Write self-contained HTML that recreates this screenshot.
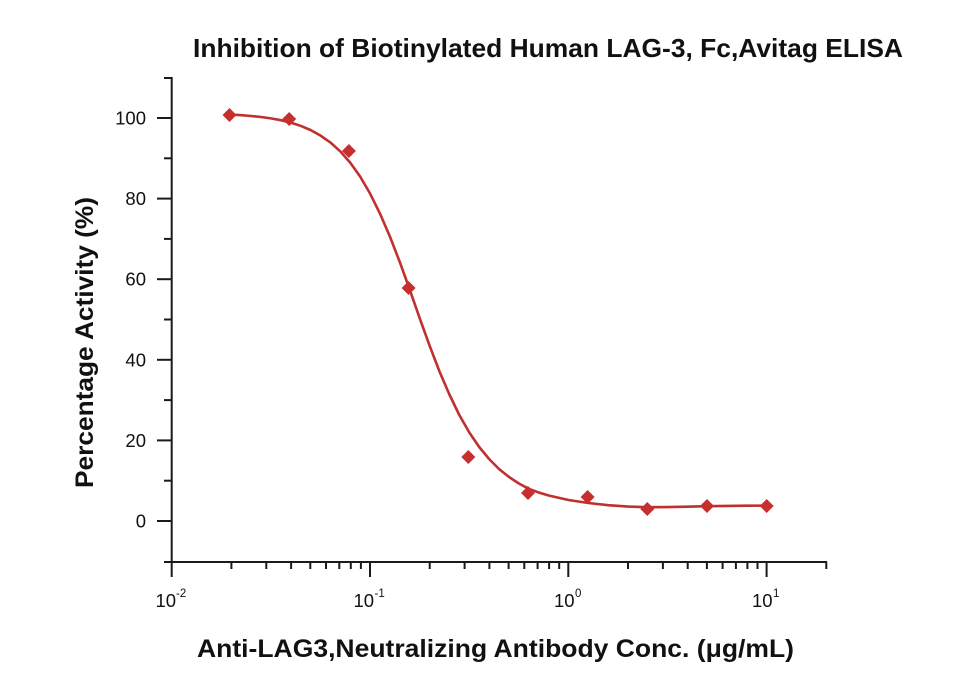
<!DOCTYPE html>
<html>
<head>
<meta charset="utf-8">
<style>
html,body{margin:0;padding:0;background:#fff;}
svg{display:block;}
text{font-family:"Liberation Sans",Arial,sans-serif;fill:#111;}
</style>
</head>
<body>
<svg width="960" height="674" viewBox="0 0 960 674" xmlns="http://www.w3.org/2000/svg">
<rect width="960" height="674" fill="#fff"/>
<!-- Title -->
<text x="193" y="57" font-size="26" font-weight="bold" textLength="710" lengthAdjust="spacingAndGlyphs">Inhibition of Biotinylated Human LAG-3, Fc,Avitag ELISA</text>
<!-- Axes -->
<g stroke="#1a1a1a" stroke-width="2" fill="none">
<line x1="171.7" y1="77" x2="171.7" y2="563"/>
<line x1="164" y1="562" x2="827" y2="562"/>
<!-- y major ticks -->
<line x1="157" y1="118" x2="172" y2="118"/>
<line x1="157" y1="198.6" x2="172" y2="198.6"/>
<line x1="157" y1="279.2" x2="172" y2="279.2"/>
<line x1="157" y1="359.8" x2="172" y2="359.8"/>
<line x1="157" y1="440.4" x2="172" y2="440.4"/>
<line x1="157" y1="521" x2="172" y2="521"/>
<!-- y minor ticks -->
<line x1="164" y1="78" x2="172" y2="78"/>
<line x1="164" y1="158.3" x2="172" y2="158.3"/>
<line x1="164" y1="238.9" x2="172" y2="238.9"/>
<line x1="164" y1="319.5" x2="172" y2="319.5"/>
<line x1="164" y1="400.1" x2="172" y2="400.1"/>
<line x1="164" y1="480.7" x2="172" y2="480.7"/>
<!-- x major ticks -->
<line x1="171.7" y1="562" x2="171.7" y2="577"/>
<line x1="370" y1="562" x2="370" y2="577"/>
<line x1="568.3" y1="562" x2="568.3" y2="577"/>
<line x1="766.6" y1="562" x2="766.6" y2="577"/>
<!-- x minor ticks -->
<g>
<line x1="231.4" y1="562" x2="231.4" y2="569"/>
<line x1="266.3" y1="562" x2="266.3" y2="569"/>
<line x1="291.1" y1="562" x2="291.1" y2="569"/>
<line x1="310.3" y1="562" x2="310.3" y2="569"/>
<line x1="326.0" y1="562" x2="326.0" y2="569"/>
<line x1="339.3" y1="562" x2="339.3" y2="569"/>
<line x1="350.8" y1="562" x2="350.8" y2="569"/>
<line x1="360.9" y1="562" x2="360.9" y2="569"/>
<line x1="429.7" y1="562" x2="429.7" y2="569"/>
<line x1="464.6" y1="562" x2="464.6" y2="569"/>
<line x1="489.4" y1="562" x2="489.4" y2="569"/>
<line x1="508.6" y1="562" x2="508.6" y2="569"/>
<line x1="524.3" y1="562" x2="524.3" y2="569"/>
<line x1="537.6" y1="562" x2="537.6" y2="569"/>
<line x1="549.1" y1="562" x2="549.1" y2="569"/>
<line x1="559.2" y1="562" x2="559.2" y2="569"/>
<line x1="628.0" y1="562" x2="628.0" y2="569"/>
<line x1="662.9" y1="562" x2="662.9" y2="569"/>
<line x1="687.7" y1="562" x2="687.7" y2="569"/>
<line x1="706.9" y1="562" x2="706.9" y2="569"/>
<line x1="722.6" y1="562" x2="722.6" y2="569"/>
<line x1="735.9" y1="562" x2="735.9" y2="569"/>
<line x1="747.4" y1="562" x2="747.4" y2="569"/>
<line x1="757.5" y1="562" x2="757.5" y2="569"/>
<line x1="826.3" y1="562" x2="826.3" y2="569"/>
</g>
</g>
<!-- y tick labels -->
<g font-size="18.5" text-anchor="end">
<text x="146" y="124.5">100</text>
<text x="146" y="205.1">80</text>
<text x="146" y="285.7">60</text>
<text x="146" y="366.3">40</text>
<text x="146" y="446.9">20</text>
<text x="146" y="527.5">0</text>
</g>
<!-- x tick labels -->
<g font-size="18.5">
<text x="155.5" y="607">10</text><text x="176" y="597" font-size="11.5">-2</text>
<text x="353.5" y="607">10</text><text x="374.5" y="597" font-size="11.5">-1</text>
<text x="554" y="607">10</text><text x="575" y="597" font-size="11.5">0</text>
<text x="752" y="607">10</text><text x="773" y="597" font-size="11.5">1</text>
</g>
<!-- Axis labels -->
<text x="197" y="657" font-size="25" font-weight="bold" textLength="597" lengthAdjust="spacingAndGlyphs">Anti-LAG3,Neutralizing Antibody Conc. (μg/mL)</text>
<text transform="translate(93,488) rotate(-90)" x="0" y="0" font-size="25" font-weight="bold" textLength="291" lengthAdjust="spacingAndGlyphs">Percentage Activity (%)</text>
<!-- Curve -->
<path fill="none" stroke="#c0302e" stroke-width="2.6" stroke-linejoin="round" stroke-linecap="round"
d="M229.2,114.5 L240,115.1 L251.0,116.0 L261,117.0 L270.9,118.4 L280.8,120.2 L290.7,122.6 L300.6,125.8 L310.5,130.0 L320.4,135.5 L330.3,142.4 L340.2,151.3 L350.2,162.6 L360.1,176.5 L370.0,193.4 L379.9,213.4 L389.9,236.5 L399.8,262.1 L409.7,289.6 L419.6,317.9 L429.6,345.7 L439.5,371.5 L449.4,394.5 L459.3,415.0 L469.3,432.5 L479.2,447.0 L489.1,459.0 L499.0,469.0 L509.0,477.0 L518.9,483.5 L528.8,488.8 L538.7,492.5 L548.7,495.5 L568.5,500.0 L588.3,503.0 L608.2,505.2 L628,506.6 L647.8,507.2 L667.7,507.1 L687.5,506.7 L707.3,506.2 L727.2,505.9 L747,505.7 L766.9,505.6"/>
<!-- Markers -->
<g fill="#c62f2d">
<path d="M229.5,108 L236.5,115 L229.5,122 L222.5,115 Z"/>
<path d="M289.2,112 L296.2,119 L289.2,126 L282.2,119 Z"/>
<path d="M348.9,144 L355.9,151 L348.9,158 L341.9,151 Z"/>
<path d="M408.6,281 L415.6,288 L408.6,295 L401.6,288 Z"/>
<path d="M468.3,450 L475.3,457 L468.3,464 L461.3,457 Z"/>
<path d="M528.0,486 L535.0,493 L528.0,500 L521.0,493 Z"/>
<path d="M587.6,490 L594.6,497 L587.6,504 L580.6,497 Z"/>
<path d="M647.3,502 L654.3,509 L647.3,516 L640.3,509 Z"/>
<path d="M707.0,499 L714.0,506 L707.0,513 L700.0,506 Z"/>
<path d="M766.7,499 L773.7,506 L766.7,513 L759.7,506 Z"/>
</g>
</svg>
</body>
</html>
